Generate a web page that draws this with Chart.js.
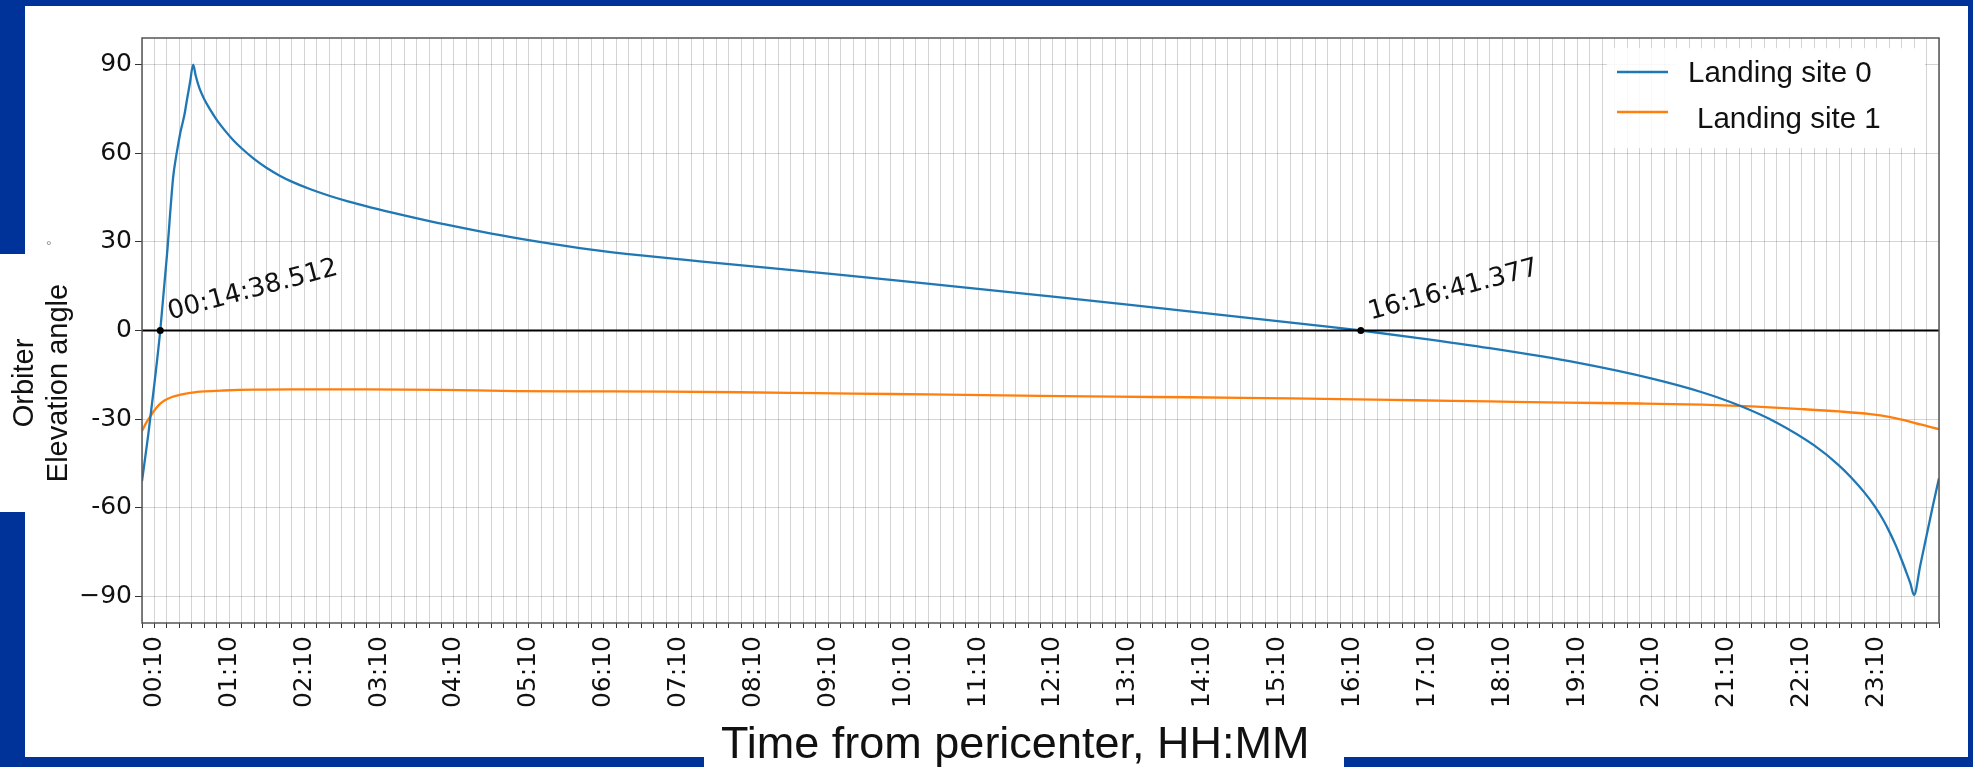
<!DOCTYPE html>
<html>
<head>
<meta charset="utf-8">
<script src="https://cdn.jsdelivr.net/npm/chart.js@4.4.0/dist/chart.umd.min.js"></script>
<style>
  html, body { margin: 0; padding: 0; }
  body { width: 1973px; height: 767px; position: relative; overflow: hidden; background: #003399; }
  .panel { position: absolute; background: #fff; }
  #chart { position: absolute; left: 0; top: 0; }
  .ytitle {
    position: absolute; left: -110px; top: 349px; width: 300px; height: 68px;
    font: 29px/34px "Liberation Sans", Arial, sans-serif; color: #111;
    text-align: center; transform: rotate(-90deg); white-space: nowrap;
  }
  .xtitle {
    position: absolute; left: 721px; top: 720px;
    font: 45px/45px "Liberation Sans", Arial, sans-serif; color: #111; white-space: nowrap;
  }
  .deg { position: absolute; left: 46px; top: 238px; font: 14px "Liberation Sans", sans-serif; color: #888; }
</style>
</head>
<body>
<div class="panel" style="left:25px;top:6px;width:1943px;height:751px"></div>
<div class="panel" style="left:0;top:254px;width:25px;height:258px"></div>
<div class="panel" style="left:704px;top:757px;width:640px;height:10px"></div>
<canvas id="chart" width="1973" height="767"></canvas>
<div class="ytitle">Orbiter<br>Elevation angle</div>
<div class="xtitle">Time from pericenter, HH:MM</div>
<div class="deg">°</div>
<script>
// minutes from pericenter and elevation angle (deg)
const timeSite0 = [0, 5, 10, 14.64, 20, 25, 27, 29, 31, 34, 36, 38.5, 41,
  43, 46, 50, 55, 60, 66, 73, 80, 90, 100, 110, 120, 135, 150, 165, 183, 210, 244, 280,
  316, 360, 400, 447, 500, 550, 610, 670, 730, 790, 850, 910, 950, 976.69, 1020, 1080,
  1150, 1210, 1250, 1280, 1310, 1340, 1360, 1370, 1380, 1388, 1395, 1400, 1405, 1409,
  1413, 1417, 1420, 1425, 1430, 1435, 1440];
const elevSite0 = [-51, -35.3, -17.8, 0, 25.5, 52, 58, 63, 67.5, 73, 78, 84, 90,
  86.3, 82, 78.2, 74.5, 71.2, 67.9, 64.5, 61.6, 58, 55, 52.5, 50.4, 47.8, 45.6, 43.7, 41.7, 39, 35.8, 32.8,
  30.2, 27.4, 25.4, 23.4, 21.3, 19.25, 16.7, 14.1, 11.45, 8.75, 6, 3.2, 1.3, 0, -2.4, -6,
  -10.9, -16.3, -20.9, -25.4, -31.2, -38.9, -45.7, -49.9, -54.7, -59.2, -63.9, -67.9, -72.4, -76.5,
  -80.9, -85.5, -89.5, -79.5, -69.5, -59.5, -50];

const timeSite1 = [0, 3, 6, 10, 14, 18, 24, 30, 40, 50, 65, 90, 120, 180, 240, 300, 360,
  420, 480, 540, 600, 660, 720, 780, 840, 900, 960, 1020, 1080, 1140, 1200, 1250, 1290,
  1330, 1360, 1385, 1400, 1412, 1425, 1440];
const elevSite1 = [-34, -31.5, -29.5, -27, -25, -23.7, -22.5, -21.8, -21, -20.6, -20.3, -20, -19.9, -19.9, -20.1, -20.5, -20.6,
  -20.7, -20.9, -21.2, -21.5, -21.8, -22.1, -22.4, -22.6, -22.9, -23.2, -23.6, -24, -24.4, -24.7, -25.1, -25.7,
  -26.6, -27.4, -28.3, -29.2, -30.3, -31.8, -33.4];

const seriesLabels = ['Landing site 0', 'Landing site 1'];

// zero elevation reference and its crossings
const zeroLineTimes = [0, 1440];
const crossTimes = [14.642, 976.690];
const crossLabels = ['00:14:38.512', '16:16:41.377'];

// axes
const xTickLabels = ['00:10', '01:10', '02:10', '03:10', '04:10', '05:10', '06:10', '07:10',
  '08:10', '09:10', '10:10', '11:10', '12:10', '13:10', '14:10', '15:10', '16:10', '17:10',
  '18:10', '19:10', '20:10', '21:10', '22:10', '23:10'];
const yTickValues = [-90, -60, -30, 0, 30, 60, 90];
const yTickLabels = ['\u221290', '-60', '-30', '0', '30', '60', '90'];

const xMin = 0, xMax = 1440, xStep = 10;

const xLabelAt = {};
xTickLabels.forEach(lbl => {
    const [h, m] = lbl.split(':').map(Number);
    xLabelAt[h * 60 + m] = lbl;
});

const toPoints = (xs, ys) => xs.map((x, i) => ({ x: x, y: ys[i] }));

const tickFont = { family: "'DejaVu Sans', sans-serif", size: 25 };
const gridColor = 'rgba(0,0,0,0.17)';

// frame, crossing labels and the legend box
const overlayPlugin = {
    id: 'overlay',
    afterDraw(chart) {
        const { ctx, chartArea: a, scales } = chart;
        ctx.save();
        ctx.strokeStyle = '#555';
        ctx.lineWidth = 1.5;
        ctx.strokeRect(a.left, a.top, a.right - a.left, a.bottom - a.top);

        ctx.fillStyle = '#111';
        ctx.font = "26px 'DejaVu Sans', sans-serif";
        ctx.textBaseline = 'alphabetic';
        crossTimes.forEach((t, i) => {
            const px = scales.x.getPixelForValue(t);
            const py = scales.y.getPixelForValue(0);
            ctx.save();
            ctx.translate(px + 10, py - 11);
            ctx.rotate(-15 * Math.PI / 180);
            ctx.fillText(crossLabels[i], 0, 0);
            ctx.restore();
        });

        // legend
        ctx.fillStyle = 'rgba(255,255,255,0.85)';
        ctx.fillRect(1607, 48, 318, 100);
        ctx.fillStyle = '#fff';
        ctx.fillRect(1675, 50, 250, 97);
        const lineY = [72, 112];
        const textPos = [[1688, 82], [1697, 128]];
        ctx.font = "29.5px 'Liberation Sans', Arial, sans-serif";
        chart.data.datasets.slice(0, 2).forEach((ds, i) => {
            ctx.strokeStyle = ds.borderColor;
            ctx.lineWidth = 2.5;
            ctx.beginPath();
            ctx.moveTo(1617, lineY[i]);
            ctx.lineTo(1668, lineY[i]);
            ctx.stroke();
            ctx.fillStyle = '#111';
            ctx.fillText(ds.label, textPos[i][0], textPos[i][1]);
        });
        ctx.restore();
    }
};

const ctx = document.getElementById('chart').getContext('2d');
new Chart(ctx, {
    type: 'line',
    data: {
        datasets: [
            {
                label: seriesLabels[0],
                data: toPoints(timeSite0, elevSite0),
                borderColor: '#1f77b4',
                borderWidth: 2.3,
                pointRadius: 0,
                cubicInterpolationMode: 'monotone',
                order: 0
            },
            {
                label: seriesLabels[1],
                data: toPoints(timeSite1, elevSite1),
                borderColor: '#ff7f0e',
                borderWidth: 2.3,
                pointRadius: 0,
                cubicInterpolationMode: 'monotone',
                order: 1
            },
            {
                label: 'zero',
                data: toPoints(zeroLineTimes, zeroLineTimes.map(() => 0)),
                borderColor: '#000',
                borderWidth: 2.2,
                pointRadius: 0,
                order: -1
            },
            {
                label: 'crossings',
                data: toPoints(crossTimes, crossTimes.map(() => 0)),
                showLine: false,
                pointRadius: 3.5,
                pointBackgroundColor: '#000',
                pointBorderWidth: 0,
                order: -2
            }
        ]
    },
    options: {
        responsive: false,
        animation: false,
        layout: { padding: { left: 22, top: 38, right: 34, bottom: 44 } },
        plugins: { legend: { display: false }, tooltip: { enabled: false } },
        scales: {
            x: {
                type: 'linear',
                min: xMin,
                max: xMax,
                afterBuildTicks: axis => {
                    const ticks = [];
                    for (let v = xMin; v <= xMax; v += xStep) ticks.push({ value: v });
                    axis.ticks = ticks;
                },
                afterFit: axis => {
                    axis.height = 100;
                    axis.paddingLeft = 0;
                    axis.paddingRight = 0;
                },
                border: { display: false },
                grid: { color: gridColor, lineWidth: 1, tickLength: 5, tickColor: '#333' },
                ticks: {
                    autoSkip: false,
                    minRotation: 90,
                    maxRotation: 90,
                    padding: 8,
                    font: tickFont,
                    color: '#111',
                    callback: value => xLabelAt[value] || ''
                }
            },
            y: {
                min: -99,
                max: 99,
                afterBuildTicks: axis => {
                    axis.ticks = yTickValues.map(v => ({ value: v }));
                },
                afterFit: axis => {
                    axis.width = 120;
                    axis.paddingTop = 0;
                    axis.paddingBottom = 0;
                },
                border: { display: false },
                grid: { color: gridColor, lineWidth: 1, tickLength: 7, tickColor: '#333' },
                ticks: {
                    padding: 3,
                    font: tickFont,
                    color: '#111',
                    callback: value => yTickLabels[yTickValues.indexOf(value)]
                }
            }
        }
    },
    plugins: [overlayPlugin]
});
</script>
</body>
</html>
